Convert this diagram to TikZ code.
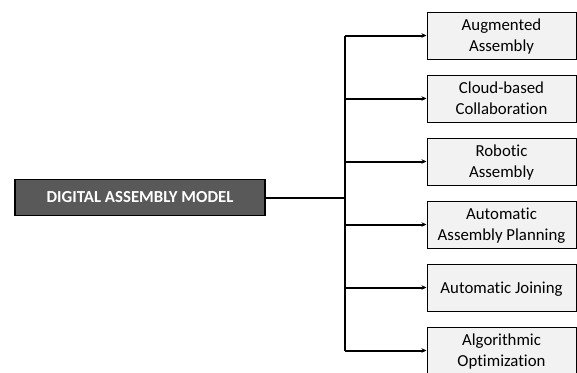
\documentclass[tikz,border=0pt]{standalone}
\usepackage{fontspec}
\setmainfont{Carlito}[Ligatures=NoCommon]
\usetikzlibrary{arrows.meta}
\definecolor{leafgray}{HTML}{F2F2F2}
\definecolor{rootgray}{HTML}{595959}
\begin{document}
\begin{tikzpicture}[x=1pt,y=-1pt,
  rootbox/.style={draw=black,line width=1.8pt,fill=rootgray,text=white,
    font=\fontsize{16.8}{20}\selectfont\bfseries,minimum width=250pt,minimum height=36pt,inner sep=0pt},
  leafbox/.style={draw=black,line width=1pt,fill=leafgray,align=center,text depth=0pt,
    font=\fontsize{16.8}{21}\selectfont,minimum width=149pt,minimum height=47pt,inner sep=0pt},
  link/.style={line width=2pt,-{Stealth[length=5pt,width=4.5pt]}}]
\useasboundingbox (0,0) rectangle (577,372);
\fill[white] (0,0) rectangle (577,372);
\node[rootbox] (root) at (140,197.5) {DIGITAL ASSEMBLY MODEL};
\node[leafbox] (l1) at (501.5,35.5) {Augmented\\Assembly};
\node[leafbox] (l2) at (501.5,98.5) {Cloud-based\\Collaboration};
\node[leafbox] (l3) at (501.5,161.5) {Robotic\\Assembly};
\node[leafbox] (l4) at (501.5,224.5) {Automatic\\Assembly Planning};
\node[leafbox] (l5) at (501.5,287.5) {Automatic Joining};
\node[leafbox] (l6) at (501.5,350.5) {Algorithmic\\Optimization};
\coordinate (hub) at (345,197.5);
\draw[line width=2pt] (root.east) -- (hub);
\draw[line width=2pt] (hub |- l1.west) -- (hub |- l6.west);
\foreach \n in {l1,l2,l3,l4,l5,l6}
  \draw[link] (hub |- \n.west) -- (\n.west);
\end{tikzpicture}
\end{document}
